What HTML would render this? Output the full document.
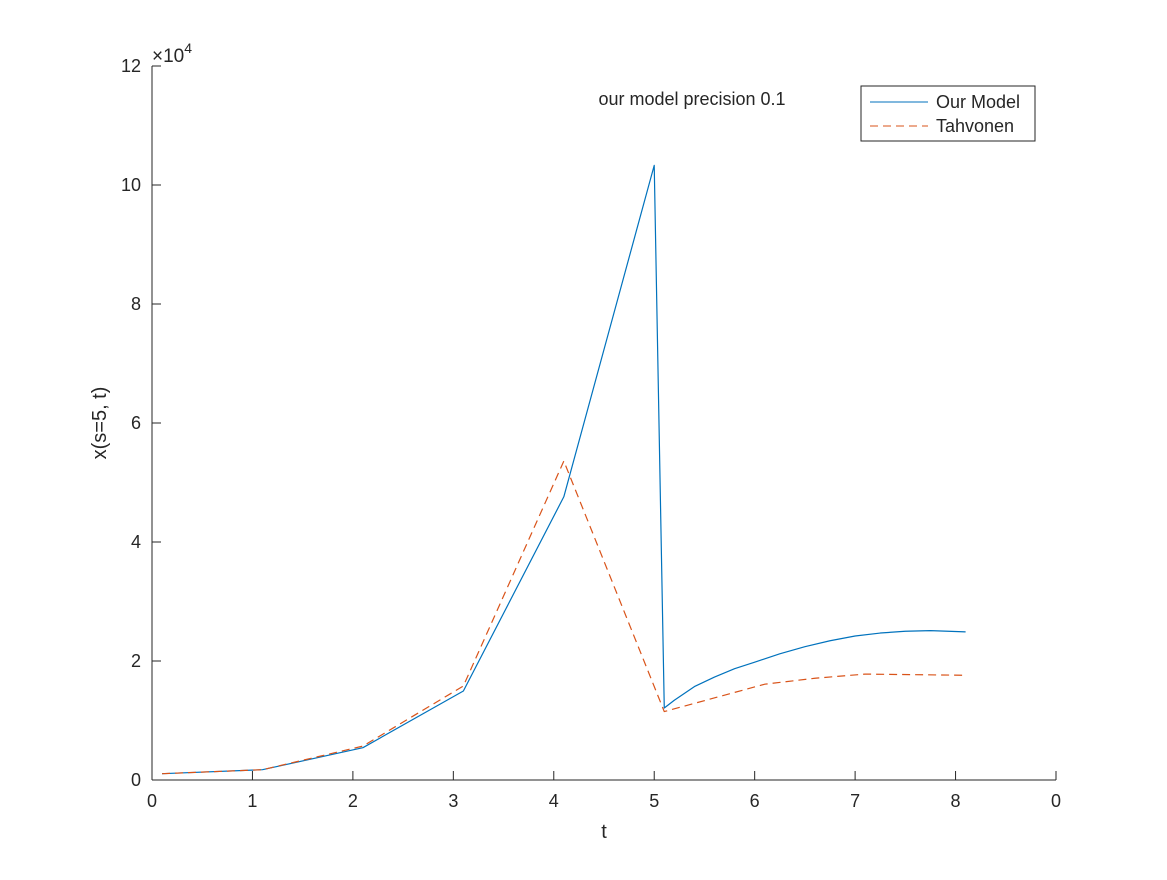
<!DOCTYPE html>
<html><head><meta charset="utf-8"><style>
body{margin:0;background:#fff;}
svg text{font-family:"Liberation Sans",sans-serif;fill:#262626;}
</style></head><body>
<svg width="1167" height="875" xmlns="http://www.w3.org/2000/svg">
<g id="axes"></g>
<g id="series"></g>
<text x="692" y="105" font-size="18" text-anchor="middle">our model precision 0.1</text>
<text x="604" y="838" font-size="20" text-anchor="middle">t</text>
<text transform="translate(106,423) rotate(-90)" font-size="20" text-anchor="middle">x(s=5, t)</text>
<text x="152" y="62" font-size="19">×10<tspan dy="-9" font-size="14">4</tspan></text>
<g>
<rect x="861" y="86" width="174" height="55" fill="#fff" stroke="#262626" stroke-width="1"/>
<line x1="870" y1="102" x2="928" y2="102" stroke="#0072BD" stroke-width="1"/>
<text x="936" y="108" font-size="18">Our Model</text>
<line x1="870" y1="126" x2="928" y2="126" stroke="#D95319" stroke-width="1" stroke-dasharray="8,5"/>
<text x="936" y="132" font-size="18">Tahvonen</text>
</g>
</svg>
<script>
const xTicks=[0,1,2,3,4,5,6,7,8,9];
const xTickLabels=["0","1","2","3","4","5","6","7","8","0"];
const yTicks=[0,2,4,6,8,10,12];
const yTickLabels=["0","2","4","6","8","10","12"];
const ourT=[0.1,1.1,2.1,3.1,4.1,5.0,5.1,5.2,5.4,5.6,5.8,6.0,6.25,6.5,6.75,7.0,7.25,7.5,7.75,8.1];
const ourX=[1060,1730,5430,14960,47600,103300,12100,13400,15700,17300,18700,19800,21200,22400,23400,24200,24700,25000,25100,24900];
const tahT=[0.1,1.1,2.1,3.1,4.1,5.1,6.1,6.6,7.1,8.1];
const tahX=[1060,1730,5700,15800,53600,11500,16100,17100,17800,17600];
const X0=152,X1=1056,Y0=780,Y1=66;
const sx=v=>X0+(v-0)/(9-0)*(X1-X0);
const sy=v=>Y0-(v/1e4)/12*(Y0-Y1);
const NS="http://www.w3.org/2000/svg";
const ax=document.getElementById('axes');
function mk(tag,attrs,parent){const e=document.createElementNS(NS,tag);for(const k in attrs)e.setAttribute(k,attrs[k]);parent.appendChild(e);return e;}
let l=mk('line',{x1:X0,y1:Y0,x2:X1,y2:Y0,stroke:'#262626','stroke-width':1},ax);


l=mk('line',{x1:X0,y1:Y0,x2:X0,y2:Y1,stroke:'#262626','stroke-width':1},ax);


xTicks.forEach((t,i)=>{const x=sx(t);
 const tk=mk('line',{x1:x,y1:Y0,x2:x,y2:Y0-9,stroke:'#262626'},ax);
 
 
 const tx=mk('text',{x:x,y:Y0+27,'font-size':18,'text-anchor':'middle'},ax);tx.textContent=xTickLabels[i];
 
 
});
yTicks.forEach((t,i)=>{const y=sy(t*1e4);
 const tk=mk('line',{x1:X0,y1:y,x2:X0+9,y2:y,stroke:'#262626'},ax);
 
 
 const tx=mk('text',{x:X0-11,y:y+6,'font-size':18,'text-anchor':'end'},ax);tx.textContent=yTickLabels[i];
 
 
});
const sg=document.getElementById('series');
const p1=mk('polyline',{points:ourT.map((t,i)=>sx(t)+','+sy(ourX[i])).join(' '),fill:'none',stroke:'#0072BD','stroke-width':1.2,'stroke-linejoin':'round'},sg);


const p2=mk('polyline',{points:tahT.map((t,i)=>sx(t)+','+sy(tahX[i])).join(' '),fill:'none',stroke:'#D95319','stroke-width':1.2,'stroke-dasharray':'8,5'},sg);


</script>
</body></html>
